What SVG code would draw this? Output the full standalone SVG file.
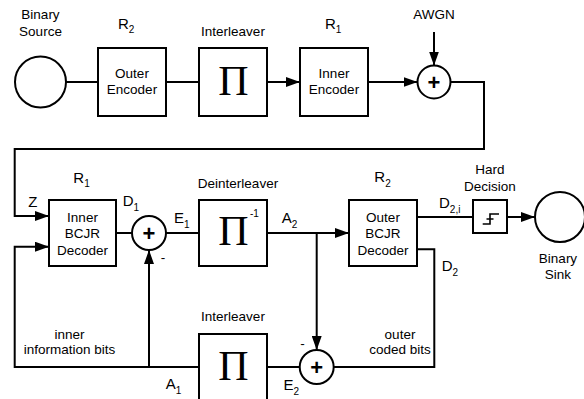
<svg xmlns="http://www.w3.org/2000/svg" width="584" height="399" viewBox="0 0 584 399">
<defs>
<marker id="arr" markerUnits="userSpaceOnUse" markerWidth="14" markerHeight="10" refX="14" refY="5" orient="auto">
<path d="M0,0 L14,5 L0,10 z" fill="#000"/>
</marker>
<style>
.box{fill:#fff;stroke:#000;stroke-width:2}
.ln{fill:none;stroke:#000;stroke-width:2}
.a{marker-end:url(#arr)}
.t{font-family:"Liberation Sans",Arial,sans-serif;font-size:13.5px;fill:#000;text-anchor:middle}
.s{font-family:"Liberation Sans",Arial,sans-serif;font-size:15px;fill:#000}
.sub{font-size:10px}
.pi{font-family:"Liberation Serif","Times New Roman",serif;font-size:42px;fill:#000;text-anchor:middle}
.plus{font-family:"Liberation Sans",Arial,sans-serif;font-size:22px;font-weight:bold;fill:#000;text-anchor:middle}
</style>
</defs>
<rect width="584" height="399" fill="#fff"/>

<g id="connectors">
<path class="ln" d="M66,82 H98"/>
<path class="ln" d="M166,82 H199"/>
<path class="ln a" d="M267,82 H300"/>
<path class="ln a" d="M368,82 H417.5"/>
<path class="ln a" d="M434,32 V65.5"/>
<path class="ln a" d="M450.5,82 H484 V149 H14.7 V216 H49"/>
<path class="ln" d="M116,233 H132"/>
<path class="ln" d="M166,233 H199"/>
<path class="ln a" d="M267,233 H349"/>
<path class="ln a" d="M316.7,233 V350"/>
<path class="ln" d="M417,217 H473"/>
<path class="ln a" d="M507,217 H535"/>
<path class="ln" d="M417,249.3 H434.3 V367 H333.7"/>
<path class="ln" d="M299.7,367 H267"/>
<path class="ln a" d="M199,367 H14.7 V246.7 H49"/>
<path class="ln a" d="M149,367 V250"/>
</g>

<g id="source">
<circle cx="40.5" cy="82" r="25.5" class="box"/>
<text class="t" x="40.5" y="19">Binary</text>
<text class="t" x="40.5" y="36">Source</text>
</g>

<g id="outer-encoder">
<rect class="box" x="98" y="48" width="68" height="68"/>
<text class="t" x="132" y="78">Outer</text>
<text class="t" x="132" y="94">Encoder</text>
<text class="s" x="118" y="28.5">R<tspan class="sub" dy="4">2</tspan></text>
</g>

<g id="interleaver-top">
<rect class="box" x="199" y="48" width="68" height="68"/>
<text class="pi" x="233.5" y="95">Π</text>
<text class="t" x="233" y="36">Interleaver</text>
</g>

<g id="inner-encoder">
<rect class="box" x="300" y="48" width="68" height="68"/>
<text class="t" x="334" y="78">Inner</text>
<text class="t" x="334" y="94">Encoder</text>
<text class="s" x="325" y="28.5">R<tspan class="sub" dy="4">1</tspan></text>
</g>

<g id="adder-awgn">
<circle class="box" cx="434" cy="82" r="16.5"/>
<text class="plus" x="434" y="89.7">+</text>
<text class="t" x="434" y="19.3">AWGN</text>
</g>

<g id="inner-bcjr">
<rect class="box" x="49" y="200" width="67" height="66"/>
<text class="t" x="82.5" y="221.5">Inner</text>
<text class="t" x="82.5" y="238">BCJR</text>
<text class="t" x="82.5" y="254.5">Decoder</text>
<text class="s" x="73.3" y="183.3">R<tspan class="sub" dy="4">1</tspan></text>
<text class="s" x="28.3" y="206.5">Z</text>
</g>

<g id="adder-1">
<circle class="box" cx="149" cy="233" r="17"/>
<text class="plus" x="149" y="240.7">+</text>
<text class="s" x="122.7" y="206">D<tspan class="sub" dy="5">1</tspan></text>
<text class="s" x="174" y="223.3">E<tspan class="sub" dy="5">1</tspan></text>
<text class="t" x="163" y="261.5">-</text>
</g>

<g id="deinterleaver">
<rect class="box" x="199" y="200" width="68" height="66"/>
<text class="pi" x="233.5" y="245">Π</text>
<text class="s" x="250" y="217" style="font-size:10px">-1</text>
<text class="t" x="238" y="188">Deinterleaver</text>
<text class="s" x="281.7" y="223.3">A<tspan class="sub" dy="5">2</tspan></text>
</g>

<g id="outer-bcjr">
<rect class="box" x="349" y="200" width="68" height="66"/>
<text class="t" x="383" y="221.5">Outer</text>
<text class="t" x="383" y="238">BCJR</text>
<text class="t" x="383" y="254.5">Decoder</text>
<text class="s" x="374.3" y="181.5">R<tspan class="sub" dy="5">2</tspan></text>
<text class="s" x="439" y="208.3">D<tspan class="sub" dy="5">2,i</tspan></text>
<text class="s" x="441.7" y="270.5">D<tspan class="sub" dy="5">2</tspan></text>
</g>

<g id="hard-decision">
<rect class="box" x="473" y="200" width="34" height="33"/>
<path class="ln" style="stroke-width:1.6" d="M482.7,224 H490 V214 H499 M486.5,219 H493.5"/>
<text class="t" x="490" y="174">Hard</text>
<text class="t" x="490" y="190.5">Decision</text>
</g>

<g id="sink">
<circle class="box" cx="560" cy="217" r="25"/>
<text class="t" x="558" y="262.5">Binary</text>
<text class="t" x="558" y="279">Sink</text>
</g>

<g id="adder-2">
<circle class="box" cx="316.7" cy="367" r="17"/>
<text class="plus" x="316.7" y="374.7">+</text>
<text class="t" x="302.5" y="347.5">-</text>
<text class="s" x="283.5" y="390">E<tspan class="sub" dy="5">2</tspan></text>
</g>

<g id="interleaver-bottom">
<rect class="box" x="199" y="334" width="68" height="70"/>
<text class="pi" x="233.5" y="380">Π</text>
<text class="t" x="233" y="321">Interleaver</text>
<text class="s" x="165.7" y="388.5">A<tspan class="sub" dy="5">1</tspan></text>
</g>

<g id="labels">
<text class="t" x="69.5" y="338.5">inner</text>
<text class="t" x="69.5" y="354">information bits</text>
<text class="t" x="400" y="338.5">outer</text>
<text class="t" x="400" y="354">coded bits</text>
</g>
</svg>
